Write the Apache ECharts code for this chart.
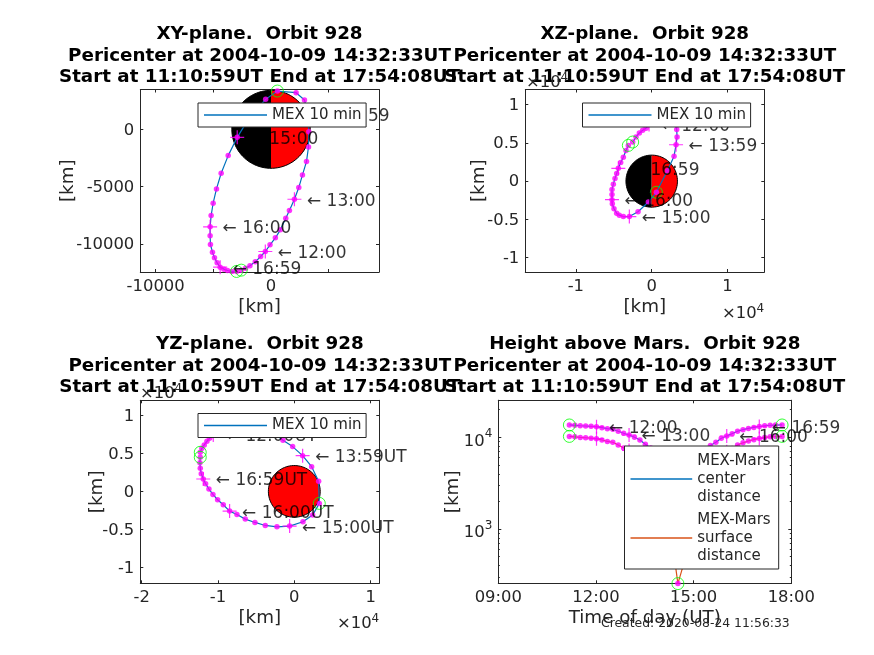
<!DOCTYPE html>
<html><head><meta charset="utf-8"><style>html,body{margin:0;padding:0;background:#fff}#c{width:874px;height:655px}</style>
<script src="https://cdn.jsdelivr.net/npm/echarts@6/dist/echarts.min.js"></script></head>
<body><div id="c"></div><script>
const marsRadius = 3396;
const timeOfDay = ['11:11','11:21','11:31','11:41','11:51','12:01','12:11','12:21','12:31','12:41','12:51','13:01','13:11','13:21','13:31','13:41','13:51','14:01','14:11','14:21','14:31','14:41','14:51','15:01','15:11','15:21','15:31','15:41','15:51','16:01','16:11','16:21','16:31','16:41','16:51','17:01','17:11','17:21','17:31','17:43'];
const xyX = [-2581,-2204,-1827,-1363,-899,-493,-87,377,812,1276,1595,2030,2407,2726,3074,3248,3277,3248,2900,2175,551,-464,-1827,-2929,-3712,-4321,-4727,-5017,-5191,-5278,-5278,-5249,-5075,-4901,-4669,-4408,-4089,-3770,-3393,-2987];
const xyY = [-12267,-12093,-11890,-11542,-11078,-10643,-10063,-9454,-8758,-7743,-7076,-6090,-5075,-3973,-2813,-1537,-203,1247,2552,3190,3335,2610,1102,-696,-2291,-3828,-5191,-6438,-7511,-8497,-9280,-10034,-10701,-11194,-11629,-12006,-12180,-12296,-12383,-12383];
const xzX = [-2508,-2068,-1628,-1188,-748,-352,-88,396,792,1276,1584,2024,2376,2728,3080,3300,3344,3212,2948,2068,616,-440,-1804,-2948,-3740,-4268,-4620,-4972,-5192,-5236,-5236,-5236,-5060,-4840,-4620,-4400,-4092,-3740,-3388,-3080];
const xzZ = [5104,5764,6292,6644,6908,7392,8052,8492,8712,8844,8844,8756,8492,8140,7612,6732,5764,4752,3256,1364,-1452,-2728,-4004,-4620,-4620,-4444,-4180,-3608,-2948,-2420,-1760,-1100,-396,352,1012,1672,2420,3124,4004,4664];
const yzY = [-12323,-12105,-11799,-11449,-11100,-10619,-9745,-8871,-7910,-6905,-5900,-4851,-3977,-3409,-2491,-1486,-219,1093,2272,3190,3278,2404,1136,-612,-2272,-3802,-5157,-6424,-7516,-8478,-9308,-10051,-10663,-11187,-11624,-11930,-12192,-12323,-12367,-12323];
const yzZ = [5136,5663,6102,6585,6980,7419,7946,8429,8824,9131,9263,9175,8736,8297,7507,6717,5883,4697,3249,1317,-1580,-3117,-3995,-4566,-4653,-4478,-4083,-3644,-3029,-2590,-1756,-1098,-395,307,1010,1624,2327,3029,3775,4478];
const centerDistance = [13620,13500,13350,13280,13180,13050,12730,12410,12220,11620,11060,10590,10000,9340,8390,7630,6630,5890,5040,4090,3650,3800,4500,5516,6350,7280,8140,8820,9750,10330,10950,11620,12100,12500,12820,13110,13350,13520,13580,13620];
const surfaceDistance = [10224,10104,9954,9884,9784,9654,9334,9014,8824,8224,7664,7194,6604,5944,4994,4234,3234,2494,1644,694,254,404,1104,2120,2954,3884,4744,5424,6354,6934,7554,8224,8704,9104,9424,9714,9954,10124,10184,10224];
const hourIndex = [5,11,17,23,29,35];
const hourLabels = ['12:00','13:00','13:59','15:00','16:00','16:59'];
const circleIndex = [0,20,39];
const title1 = 'Pericenter at 2004-10-09 14:32:33UT\nStart at 11:10:59UT End at 17:54:08UT';
const panelTitles = ['XY-plane.  Orbit 928','XZ-plane.  Orbit 928','YZ-plane.  Orbit 928','Height above Mars.  Orbit 928'];
const ticksP1X = [-10000,-5000,0,5000], labelsP1X = [-10000,0], ticksP1Y = [-10000,-5000,0];
const ticksP2X = [-10000,0,10000], ticksE4Y = [-10000,-5000,0,5000,10000];
const ticksP3X = [-20000,-10000,0,10000];
const ticksHour = [9,12,15,18];
const logMajor = [1000,10000];
const logMinor = [300,400,500,600,700,800,900,2000,3000,4000,5000,6000,7000,8000,9000,20000];
const legendLine = 'MEX 10 min', legendCenter = 'MEX-Mars\ncenter\ndistance', legendSurface = 'MEX-Mars\nsurface\ndistance';

const FF = 'DejaVu Sans', AX = '#262626', BLUE = '#0072BD', ORANGE = '#D95319', MAG = '#FF00FF', GREEN = '#00FF00';
const PLUS = 'path://M0 7H14M7 0V14';
const hours = timeOfDay.map(s => { const p = s.split(':'); return +p[0] + p[1] / 60; });
const zip = (a, b) => a.map((v, i) => [v, b[i]]);
const e4 = v => String(v / 10000);
const hhmm = v => String(v).padStart(2, '0') + ':00';

const grids = [
  {left:140.3, top:89.5, width:238.7, height:182.5},
  {left:525.3, top:89.5, width:239, height:182.5},
  {left:140.3, top:400.3, width:239, height:183},
  {left:498.3, top:400.3, width:293, height:183}
];
const xAxis = [], yAxis = [], series = [];
function axisBase(gi, min, max, pos, ticks, len) {
  return {gridIndex:gi, type:'value', min, max, position:pos, splitLine:{show:false}, nameMoveOverlap:false,
    axisLine:{show:true, onZero:false, lineStyle:{color:AX, width:1}},
    axisTick:{show:true, inside:true, length:len||3, customValues:ticks, lineStyle:{color:AX, width:1}},
    axisLabel:{show:false}};
}
function addX(gi, min, max, ticks, labels, fmt, name, gap) {
  const a = axisBase(gi, min, max, 'bottom', ticks);
  a.axisLabel = {show:true, customValues:labels, formatter:fmt, color:AX, fontSize:16.4, fontFamily:FF, margin:6.5};
  a.name = name; a.nameLocation = 'middle'; a.nameGap = gap;
  a.nameTextStyle = {color:AX, fontSize:18.3, fontFamily:FF};
  xAxis.push(a); xAxis.push(axisBase(gi, min, max, 'top', ticks));
  return xAxis.length - 2;
}
function addY(gi, min, max, ticks, labels, fmt, gap, type) {
  const a = axisBase(gi, min, max, 'left', ticks);
  a.axisLabel = {show:true, customValues:labels, formatter:fmt, color:AX, fontSize:16.4, fontFamily:FF, margin:6, padding:[2,0,0,0],
    rich:{sup:{fontSize:12, verticalAlign:'bottom', padding:[0,0,9,0], color:AX, fontFamily:FF}, b:{fontSize:16.4, padding:[6,0,0,0], color:AX, fontFamily:FF}}};
  a.name = '[km]'; a.nameLocation = 'middle'; a.nameGap = gap;
  a.nameTextStyle = {color:AX, fontSize:18.3, fontFamily:FF};
  if (type) a.type = type;
  yAxis.push(a);
  const r = axisBase(gi, min, max, 'right', ticks);
  if (type) r.type = type;
  yAxis.push(r);
  return yAxis.length - 2;
}
function mars(xi, yi, half) {
  series.push({type:'custom', xAxisIndex:xi, yAxisIndex:yi, silent:true, z:1, clip:false, data:[[0,0,marsRadius]],
    encode:{x:0, y:1},
    renderItem(params, api) {
      const R = api.value(2), arc = (a0, a1) => {
        const pts = [];
        for (let i = 0; i <= 90; i++) { const t = (a0 + (a1 - a0) * i / 90) * Math.PI / 180; pts.push(api.coord([R * Math.cos(t), R * Math.sin(t)])); }
        return pts;
      };
      const kids = [];
      if (half) {
        kids.push({type:'polygon', shape:{points:arc(90,270)}, style:{fill:'#000'}});
        kids.push({type:'polygon', shape:{points:arc(-90,90)}, style:{fill:'#FF0000'}});
      }
      kids.push({type:'polygon', shape:{points:arc(0,360)}, style:{fill:half ? 'none' : '#FF0000', stroke:'#000', lineWidth:1}});
      return {type:'group', children:kids};
    }});
}
function orbit(xi, yi, pts, name, color, labels) {
  const common = {xAxisIndex:xi, yAxisIndex:yi, silent:true, clip:false};
  series.push(Object.assign({type:'line', name, data:pts, symbol:'none', z:3, lineStyle:{color, width:1.2}, itemStyle:{color}}, common));
  series.push(Object.assign({type:'scatter', data:pts, symbol:'circle', symbolSize:5.5, z:4, itemStyle:{color:MAG}}, common));
  series.push(Object.assign({type:'scatter', data:hourIndex.map((k, i) => ({value:pts[k], name:labels ? labels[i] : ''})),
    symbol:PLUS, symbolSize:14, z:5, itemStyle:{color:'none', borderColor:MAG, borderWidth:1.2},
    label:{show:!!labels, position:'right', distance:3, offset:[0,2], formatter:'← {b}', color:'#000', fontSize:17, fontFamily:FF}}, common));
  series.push(Object.assign({type:'scatter', data:circleIndex.map(k => pts[k]), symbol:'circle', symbolSize:12, z:5,
    itemStyle:{color:'none', borderColor:GREEN, borderWidth:1}}, common));
}

// Panel 1
let xi = addX(0, -11330, 9360, ticksP1X, labelsP1X, v => String(v), '[km]', 26);
let yi = addY(0, -12430, 3470, ticksP1Y, ticksP1Y, v => String(v), 63);
mars(xi, yi, true);
orbit(xi, yi, zip(xyX, xyY), legendLine, BLUE, hourLabels);
// Panel 2
xi = addX(1, -16670, 14850, ticksP2X, ticksP2X, e4, '[km]', 26);
yi = addY(1, -11860, 11960, ticksE4Y, ticksE4Y, e4, 37);
mars(xi, yi, true);
orbit(xi, yi, zip(xzX, xzZ), legendLine, BLUE, hourLabels);
// Panel 3
xi = addX(2, -20180, 11140, ticksP3X, ticksP3X, e4, '[km]', 26);
yi = addY(2, -12080, 11970, ticksE4Y, ticksE4Y, e4, 34);
mars(xi, yi, false);
orbit(xi, yi, zip(yzY, yzZ), legendLine, BLUE, hourLabels.map(s => s + 'UT'));
// Panel 4
xi = addX(3, 9, 18, ticksHour, ticksHour, hhmm, 'Time of day (UT)', 26);
yi = addY(3, 256, 25300, logMajor, logMajor, v => '{b|10}{sup|' + Math.round(Math.log10(v)) + '}', 36, 'log');
const minorL = axisBase(3, 256, 25300, 'left', logMinor, 1.5); minorL.type = 'log';
const minorR = axisBase(3, 256, 25300, 'right', logMinor, 1.5); minorR.type = 'log';
yAxis.push(minorL, minorR);
orbit(xi, yi, zip(hours, centerDistance), legendCenter, BLUE, hourLabels);
orbit(xi, yi, zip(hours, surfaceDistance), legendSurface, ORANGE, null);

const legendCommon = {orient:'vertical', selectedMode:false, icon:'rect', itemHeight:1.5, z:50, backgroundColor:'#fff',
  borderColor:AX, borderWidth:1, borderRadius:0, textStyle:{color:AX, fontSize:15, fontFamily:FF}};
const legend = [
  Object.assign({}, legendCommon, {left:198, top:103, itemWidth:63, padding:[4.5,4.5,4.5,6], data:[legendLine]}),
  Object.assign({}, legendCommon, {left:582.5, top:103, itemWidth:63, padding:[4.5,4.5,4.5,6], data:[legendLine]}),
  Object.assign({}, legendCommon, {left:198, top:413.5, itemWidth:63, padding:[4.5,4.5,4.5,6], data:[legendLine]}),
  Object.assign({}, legendCommon, {left:624.5, top:446, itemWidth:61.7, itemGap:5, padding:[6,8,4,6], data:[legendCenter, legendSurface],
    textStyle:{color:AX, fontSize:15, fontFamily:FF, lineHeight:18}})
];
const tCommon = {textAlign:'center', padding:0, textStyle:{color:'#000', fontSize:18.3, fontWeight:'bold', fontFamily:FF, lineHeight:21.5}};
const expo = (left, top) => ({left, top, padding:0, text:'×10{s|4}', textStyle:{color:AX, fontSize:16.4, fontWeight:'normal', fontFamily:FF,
  rich:{s:{fontSize:12, fontWeight:'normal', verticalAlign:'bottom', padding:[0,0,9,0], color:AX, fontFamily:FF}}}});
const title = [
  Object.assign({}, tCommon, {left:259.5, top:24, text:panelTitles[0] + '\n' + title1}),
  Object.assign({}, tCommon, {left:644.8, top:24, text:panelTitles[1] + '\n' + title1}),
  Object.assign({}, tCommon, {left:259.8, top:334, text:panelTitles[2] + '\n' + title1}),
  Object.assign({}, tCommon, {left:644.8, top:334, text:panelTitles[3] + '\n' + title1}),
  expo(526, 72), expo(722, 303), expo(140, 383), expo(337, 613),
  {left:601, top:618, padding:0, text:'Created: 2020-08-24 11:56:33', textStyle:{color:AX, fontSize:12.4, fontWeight:'normal', fontFamily:FF}}
];
const chart = echarts.init(document.getElementById('c'), null, {renderer:'canvas'});
chart.setOption({animation:false, backgroundColor:'#fff', textStyle:{fontFamily:FF}, title, legend, grid:grids, xAxis, yAxis, series});
</script></body></html>
